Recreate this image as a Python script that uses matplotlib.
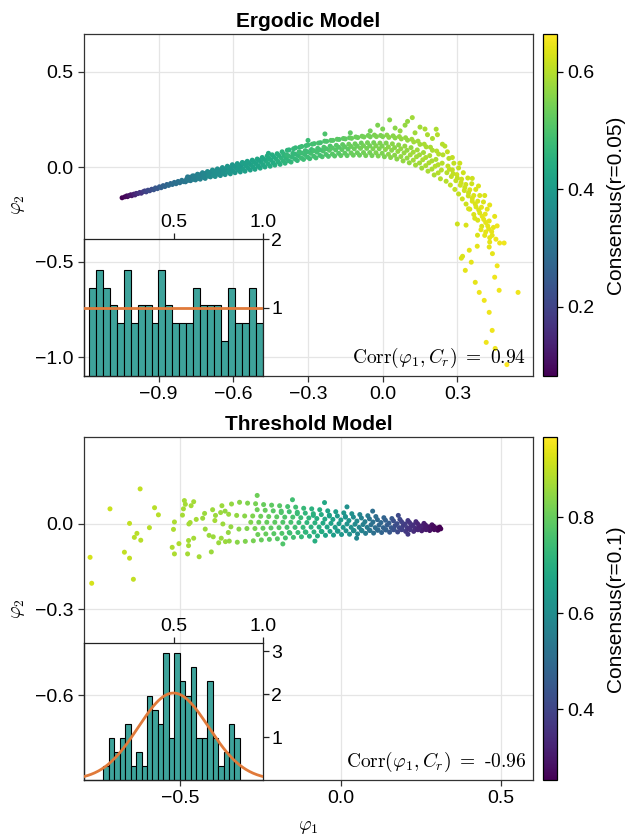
import numpy as np
import matplotlib
matplotlib.use("Agg")
import matplotlib.pyplot as plt

plt.rcParams['font.family'] = ['Liberation Sans', 'DejaVu Sans']
plt.rcParams['mathtext.fontset'] = 'cm'

# ---- Ergodic model scatter (phi1, phi2, consensus) ----
ergodic_tip = [
    (-1.047, -0.162, 0.08), (-1.036, -0.157, 0.09), (-1.028, -0.152, 0.10), (-1.025, -0.156, 0.10),
    (-1.018, -0.150, 0.11), (-1.012, -0.146, 0.12), (-1.008, -0.151, 0.12), (-1.000, -0.143, 0.13),
    (-0.995, -0.147, 0.14), (-0.990, -0.139, 0.15), (-0.983, -0.140, 0.16), (-0.976, -0.134, 0.17),
    (-0.970, -0.138, 0.17), (-0.962, -0.130, 0.18), (-0.956, -0.126, 0.19), (-0.950, -0.131, 0.20),
    (-0.943, -0.122, 0.21), (-0.936, -0.125, 0.21), (-0.928, -0.117, 0.22), (-0.920, -0.120, 0.23),
    (-0.913, -0.110, 0.24), (-0.905, -0.114, 0.24), (-0.897, -0.104, 0.25), (-0.890, -0.109, 0.26),
    (-0.882, -0.098, 0.26), (-0.875, -0.103, 0.27), (-0.867, -0.092, 0.27), (-0.860, -0.097, 0.28),
    (-0.852, -0.087, 0.28), (-0.845, -0.092, 0.29), (-0.837, -0.081, 0.29), (-0.830, -0.088, 0.30),
    (-0.822, -0.076, 0.30), (-0.815, -0.083, 0.30), (-0.807, -0.070, 0.31), (-0.800, -0.077, 0.31),
]
ergodic_rise = [
    (-0.792, -0.078, 0.31), (-0.788, -0.064, 0.32), (-0.784, -0.052, 0.32),
    (-0.772, -0.072, 0.32), (-0.768, -0.058, 0.33), (-0.764, -0.047, 0.33),
    (-0.752, -0.068, 0.33), (-0.748, -0.051, 0.34), (-0.744, -0.038, 0.34),
    (-0.733, -0.064, 0.34), (-0.728, -0.045, 0.35), (-0.724, -0.030, 0.35),
    (-0.713, -0.060, 0.35), (-0.708, -0.040, 0.36), (-0.704, -0.024, 0.36),
    (-0.692, -0.052, 0.36), (-0.688, -0.034, 0.36), (-0.684, -0.016, 0.37),
    (-0.673, -0.050, 0.37), (-0.668, -0.028, 0.37), (-0.664, -0.010, 0.37),
    (-0.652, -0.045, 0.37), (-0.648, -0.022, 0.38), (-0.644, -0.003, 0.38),
    (-0.633, -0.040, 0.38), (-0.628, -0.016, 0.38), (-0.624, 0.004, 0.39),
    (-0.612, -0.036, 0.39), (-0.608, -0.010, 0.39), (-0.604, 0.012, 0.39),
    (-0.593, -0.030, 0.39), (-0.588, -0.004, 0.40), (-0.584, 0.018, 0.40),
    (-0.572, -0.026, 0.40), (-0.568, 0.002, 0.40), (-0.564, 0.024, 0.41),
    (-0.553, -0.022, 0.41), (-0.548, 0.006, 0.41), (-0.544, 0.030, 0.41),
    (-0.532, -0.016, 0.41), (-0.528, 0.012, 0.42), (-0.524, 0.036, 0.42),
    (-0.513, -0.012, 0.42), (-0.508, 0.018, 0.42), (-0.504, 0.042, 0.43),
    (-0.492, -0.006, 0.43), (-0.488, 0.024, 0.43), (-0.484, 0.050, 0.43),
    (-0.473, 0.000, 0.43), (-0.468, 0.030, 0.44), (-0.464, 0.058, 0.44),
    (-0.452, 0.004, 0.44), (-0.448, 0.036, 0.44), (-0.444, 0.064, 0.45),
    (-0.433, 0.010, 0.45), (-0.428, 0.042, 0.45), (-0.424, 0.070, 0.45),
    (-0.412, 0.014, 0.45), (-0.408, 0.048, 0.46), (-0.404, 0.080, 0.46),
    (-0.740, -0.058, 0.34), (-0.700, -0.030, 0.36), (-0.660, -0.035, 0.37),
    (-0.620, -0.024, 0.38), (-0.580, -0.012, 0.40), (-0.540, 0.020, 0.41),
    (-0.500, 0.004, 0.42), (-0.460, 0.044, 0.44), (-0.420, 0.028, 0.45),
    (-0.395, 0.060, 0.46), (-0.459, 0.072, 0.44), (-0.557, 0.020, 0.41),
]
ergodic_rise_fill = [
    (-0.780, -0.070, 0.32), (-0.778, -0.054, 0.32), (-0.760, -0.065, 0.33), (-0.758, -0.047, 0.33),
    (-0.740, -0.059, 0.34), (-0.738, -0.041, 0.34), (-0.720, -0.054, 0.35), (-0.718, -0.034, 0.35),
    (-0.700, -0.048, 0.36), (-0.698, -0.028, 0.36), (-0.680, -0.043, 0.37), (-0.678, -0.021, 0.37),
    (-0.660, -0.038, 0.37), (-0.658, -0.016, 0.37), (-0.640, -0.032, 0.38), (-0.638, -0.010, 0.38),
    (-0.620, -0.027, 0.39), (-0.618, -0.003, 0.39), (-0.600, -0.022, 0.39), (-0.598, 0.004, 0.39),
    (-0.580, -0.016, 0.40), (-0.578, 0.010, 0.40), (-0.560, -0.011, 0.41), (-0.558, 0.017, 0.41),
    (-0.540, -0.006, 0.41), (-0.538, 0.022, 0.41), (-0.520, 0.000, 0.42), (-0.518, 0.028, 0.42),
    (-0.500, 0.005, 0.42), (-0.498, 0.035, 0.42), (-0.480, 0.011, 0.43), (-0.478, 0.041, 0.43),
    (-0.460, 0.016, 0.44), (-0.458, 0.048, 0.44), (-0.440, 0.022, 0.44), (-0.438, 0.054, 0.44),
    (-0.420, 0.027, 0.45), (-0.418, 0.061, 0.45), (-0.400, 0.032, 0.46), (-0.398, 0.068, 0.46),
]
ergodic_arch = [
    (-0.392, 0.020, 0.46), (-0.388, 0.045, 0.46), (-0.386, 0.064, 0.47), (-0.383, 0.088, 0.46),
    (-0.368, 0.026, 0.47), (-0.364, 0.052, 0.47), (-0.361, 0.072, 0.47), (-0.358, 0.096, 0.47),
    (-0.343, 0.034, 0.47), (-0.339, 0.060, 0.47), (-0.336, 0.080, 0.48), (-0.333, 0.104, 0.47),
    (-0.318, 0.040, 0.48), (-0.314, 0.066, 0.48), (-0.311, 0.086, 0.48), (-0.308, 0.112, 0.48),
    (-0.293, 0.044, 0.48), (-0.289, 0.072, 0.49), (-0.286, 0.092, 0.48), (-0.283, 0.120, 0.49),
    (-0.268, 0.048, 0.49), (-0.264, 0.078, 0.49), (-0.261, 0.098, 0.49), (-0.258, 0.126, 0.50),
    (-0.243, 0.054, 0.50), (-0.239, 0.084, 0.50), (-0.236, 0.104, 0.50), (-0.233, 0.136, 0.50),
    (-0.218, 0.056, 0.50), (-0.214, 0.088, 0.51), (-0.211, 0.110, 0.50), (-0.208, 0.140, 0.51),
    (-0.193, 0.058, 0.51), (-0.189, 0.090, 0.51), (-0.186, 0.114, 0.51), (-0.183, 0.146, 0.52),
    (-0.168, 0.060, 0.52), (-0.164, 0.092, 0.52), (-0.161, 0.118, 0.52), (-0.158, 0.150, 0.52),
    (-0.143, 0.060, 0.52), (-0.139, 0.094, 0.52), (-0.136, 0.120, 0.53), (-0.133, 0.154, 0.52),
    (-0.118, 0.062, 0.53), (-0.114, 0.096, 0.53), (-0.111, 0.122, 0.53), (-0.108, 0.158, 0.53),
    (-0.093, 0.062, 0.53), (-0.089, 0.098, 0.54), (-0.086, 0.126, 0.53), (-0.083, 0.162, 0.54),
    (-0.068, 0.060, 0.54), (-0.064, 0.098, 0.54), (-0.061, 0.128, 0.54), (-0.058, 0.166, 0.54),
    (-0.043, 0.060, 0.54), (-0.039, 0.096, 0.55), (-0.036, 0.128, 0.54), (-0.033, 0.168, 0.55),
    (-0.018, 0.058, 0.55), (-0.014, 0.096, 0.55), (-0.011, 0.126, 0.55), (-0.008, 0.166, 0.55),
    (0.007, 0.054, 0.55), (0.011, 0.092, 0.56), (0.014, 0.126, 0.55), (0.017, 0.168, 0.56),
    (0.032, 0.050, 0.56), (0.036, 0.088, 0.56), (0.039, 0.122, 0.56), (0.042, 0.164, 0.56),
    (0.057, 0.042, 0.56), (0.061, 0.082, 0.57), (0.064, 0.116, 0.56), (0.067, 0.160, 0.57),
    (0.082, 0.032, 0.57), (0.086, 0.074, 0.57), (0.089, 0.110, 0.57), (0.092, 0.154, 0.57),
    (0.107, 0.022, 0.57), (0.111, 0.064, 0.58), (0.114, 0.102, 0.57), (0.117, 0.146, 0.58),
    (0.132, 0.010, 0.58), (0.136, 0.054, 0.58), (0.139, 0.090, 0.58), (0.142, 0.136, 0.58),
    (0.157, -0.006, 0.58), (0.161, 0.038, 0.59), (0.164, 0.076, 0.58), (0.167, 0.120, 0.59),
    (0.182, -0.022, 0.59), (0.186, 0.022, 0.59), (0.189, 0.060, 0.59), (0.192, 0.104, 0.59),
    (0.207, -0.042, 0.59), (0.211, 0.004, 0.60), (0.214, 0.040, 0.59), (0.217, 0.084, 0.60),
    (0.232, -0.062, 0.60), (0.236, -0.016, 0.60), (0.239, 0.020, 0.60), (0.242, 0.064, 0.60),
]
ergodic_arch_fill = [
    (-0.378, 0.033, 0.46), (-0.376, 0.090, 0.46), (-0.352, 0.042, 0.47), (-0.350, 0.101, 0.47),
    (-0.327, 0.047, 0.48), (-0.325, 0.108, 0.48), (-0.302, 0.052, 0.48), (-0.300, 0.116, 0.48),
    (-0.277, 0.057, 0.49), (-0.275, 0.123, 0.49), (-0.252, 0.061, 0.49), (-0.250, 0.128, 0.49),
    (-0.227, 0.066, 0.50), (-0.225, 0.135, 0.50), (-0.202, 0.068, 0.51), (-0.200, 0.140, 0.51),
    (-0.177, 0.072, 0.51), (-0.175, 0.145, 0.51), (-0.152, 0.073, 0.52), (-0.150, 0.148, 0.52),
    (-0.127, 0.074, 0.53), (-0.125, 0.151, 0.53), (-0.102, 0.075, 0.53), (-0.100, 0.155, 0.53),
    (-0.077, 0.076, 0.54), (-0.075, 0.158, 0.54), (-0.052, 0.076, 0.54), (-0.050, 0.159, 0.54),
    (-0.027, 0.075, 0.55), (-0.025, 0.160, 0.55), (-0.002, 0.072, 0.55), (0.000, 0.160, 0.55),
    (0.023, 0.067, 0.56), (0.025, 0.156, 0.56), (0.048, 0.062, 0.56), (0.050, 0.153, 0.56),
    (0.073, 0.055, 0.57), (0.075, 0.148, 0.57), (0.098, 0.047, 0.57), (0.100, 0.141, 0.57),
    (0.123, 0.036, 0.58), (0.125, 0.132, 0.58), (0.148, 0.021, 0.58), (0.150, 0.119, 0.58),
    (0.173, 0.007, 0.59), (0.175, 0.106, 0.59), (0.198, -0.011, 0.59), (0.200, 0.088, 0.59),
    (0.223, -0.031, 0.60), (0.225, 0.068, 0.60),
]
ergodic_arch_core = [
    (-0.378, 0.058, 0.47), (-0.352, 0.068, 0.47), (-0.327, 0.074, 0.48), (-0.302, 0.080, 0.48),
    (-0.277, 0.086, 0.49), (-0.252, 0.090, 0.49), (-0.227, 0.096, 0.50), (-0.202, 0.100, 0.51),
    (-0.177, 0.104, 0.51), (-0.152, 0.106, 0.52), (-0.127, 0.108, 0.53), (-0.102, 0.110, 0.53),
    (-0.077, 0.112, 0.54), (-0.052, 0.112, 0.54), (-0.027, 0.112, 0.55), (-0.002, 0.110, 0.55),
    (0.023, 0.106, 0.56), (0.048, 0.102, 0.56), (0.073, 0.096, 0.57), (0.098, 0.088, 0.57),
    (0.123, 0.078, 0.58), (0.148, 0.064, 0.58), (0.173, 0.050, 0.59), (0.198, 0.032, 0.59),
    (0.223, 0.012, 0.60),
    (0.119, 0.260, 0.58), (0.028, 0.248, 0.56), (-0.232, 0.174, 0.50), (0.215, 0.199, 0.59),
    (0.090, 0.220, 0.57), (0.150, 0.210, 0.58), (0.050, 0.205, 0.56), (-0.050, 0.190, 0.54),
    (-0.130, 0.180, 0.52), (0.180, 0.170, 0.59), (-0.300, 0.140, 0.48), (0.250, 0.110, 0.60),
    (0.000, 0.200, 0.55), (0.070, 0.190, 0.57), (0.130, 0.180, 0.58), (0.200, 0.150, 0.59),
    (0.240, 0.120, 0.60), (0.100, 0.240, 0.57), (-0.020, 0.220, 0.55), (0.170, 0.200, 0.59),
    (0.220, 0.170, 0.60), (0.260, 0.080, 0.61), (0.280, 0.050, 0.61), (0.310, 0.020, 0.62),
]
ergodic_descent = [
    (0.255, -0.075, 0.60), (0.258, -0.030, 0.60), (0.262, 0.005, 0.61), (0.266, 0.045, 0.60),
    (0.272, -0.095, 0.61), (0.276, -0.050, 0.61), (0.280, -0.015, 0.61), (0.286, 0.020, 0.61),
    (0.290, -0.118, 0.61), (0.294, -0.072, 0.61), (0.298, -0.040, 0.62), (0.305, -0.005, 0.61),
    (0.305, -0.142, 0.61), (0.312, -0.096, 0.62), (0.317, -0.064, 0.62), (0.324, -0.030, 0.62),
    (0.320, -0.168, 0.62), (0.328, -0.124, 0.62), (0.334, -0.092, 0.62), (0.342, -0.058, 0.62),
    (0.335, -0.195, 0.62), (0.344, -0.152, 0.62), (0.350, -0.120, 0.63), (0.358, -0.088, 0.62),
    (0.350, -0.222, 0.62), (0.360, -0.180, 0.63), (0.366, -0.150, 0.63), (0.374, -0.118, 0.63),
    (0.366, -0.250, 0.63), (0.375, -0.210, 0.63), (0.382, -0.180, 0.63), (0.390, -0.150, 0.63),
    (0.382, -0.280, 0.63), (0.390, -0.242, 0.63), (0.397, -0.212, 0.64), (0.405, -0.184, 0.63),
    (0.398, -0.312, 0.63), (0.406, -0.276, 0.64), (0.412, -0.248, 0.64), (0.420, -0.222, 0.64),
    (0.414, -0.342, 0.64), (0.422, -0.310, 0.64), (0.428, -0.284, 0.64),
    (0.430, -0.372, 0.64), (0.438, -0.340, 0.64), (0.445, -0.318, 0.64),
    (0.268, -0.012, 0.61), (0.283, -0.035, 0.61), (0.300, -0.058, 0.61), (0.315, -0.082, 0.62),
    (0.330, -0.108, 0.62), (0.345, -0.136, 0.62), (0.360, -0.165, 0.63), (0.372, -0.195, 0.63),
    (0.386, -0.226, 0.63), (0.400, -0.260, 0.64), (0.414, -0.292, 0.64), (0.426, -0.326, 0.64),
    (0.440, -0.360, 0.64), (0.430, -0.395, 0.64), (0.455, -0.380, 0.65), (0.410, -0.360, 0.64),
    (0.395, -0.330, 0.64), (0.370, -0.270, 0.63), (0.345, -0.220, 0.63),
    (0.360, -0.060, 0.62), (0.385, -0.100, 0.63), (0.410, -0.150, 0.63), (0.430, -0.200, 0.64),
    (0.450, -0.260, 0.64), (0.460, -0.310, 0.65),
]
ergodic_tail = [
    (0.321, -0.470, 0.63), (0.441, -0.456, 0.64), (0.488, -0.400, 0.65), (0.428, -0.421, 0.64),
    (0.381, -0.359, 0.63), (0.335, -0.306, 0.63), (0.316, -0.480, 0.63), (0.332, -0.544, 0.64),
    (0.356, -0.501, 0.64), (0.372, -0.607, 0.64), (0.388, -0.660, 0.65), (0.408, -0.702, 0.65),
    (0.428, -0.765, 0.65), (0.440, -0.860, 0.65), (0.416, -0.923, 0.65), (0.452, -0.955, 0.65),
    (0.499, -1.040, 0.66), (0.544, -0.660, 0.65), (0.468, -0.649, 0.65), (0.348, -0.438, 0.64),
    (0.380, -0.417, 0.64), (0.460, -0.520, 0.65), (0.470, -0.400, 0.65), (0.300, -0.300, 0.62),
    (0.450, -0.580, 0.65),
]

# ---- Threshold model scatter ----
threshold_core = [
    (0.3125, -0.017, 0.25), (0.303, -0.022, 0.26), (0.307, -0.018, 0.25), (0.301, -0.014, 0.26), (0.309, -0.011, 0.25),
    (0.278, -0.023, 0.28), (0.283, -0.016, 0.28), (0.276, -0.010, 0.29), (0.285, -0.003, 0.28), (0.292, -0.014, 0.27), (0.270, -0.012, 0.29),
    (0.253, -0.024, 0.31), (0.258, -0.015, 0.31), (0.251, -0.007, 0.32), (0.260, 0.002, 0.31), (0.245, -0.011, 0.32), (0.265, -0.019, 0.30),
    (0.228, -0.026, 0.34), (0.233, -0.015, 0.34), (0.226, -0.003, 0.35), (0.235, 0.008, 0.34), (0.220, -0.009, 0.35), (0.240, -0.020, 0.33),
    (0.203, -0.026, 0.37), (0.208, -0.013, 0.37), (0.201, 0.000, 0.38), (0.210, 0.012, 0.37), (0.195, -0.006, 0.38), (0.214, -0.018, 0.36),
    (0.178, -0.028, 0.41), (0.183, -0.013, 0.41), (0.176, 0.001, 0.42), (0.185, 0.016, 0.41), (0.170, -0.006, 0.42), (0.190, -0.020, 0.40),
    (0.153, -0.029, 0.45), (0.158, -0.013, 0.45), (0.151, 0.003, 0.46), (0.160, 0.019, 0.45), (0.145, -0.004, 0.46), (0.165, -0.020, 0.44),
    (0.128, -0.030, 0.48), (0.133, -0.013, 0.48), (0.126, 0.005, 0.49), (0.135, 0.022, 0.48), (0.120, -0.004, 0.49), (0.140, -0.020, 0.47),
    (0.103, -0.032, 0.51), (0.108, -0.013, 0.51), (0.101, 0.007, 0.52), (0.110, 0.026, 0.51), (0.095, -0.003, 0.52), (0.115, -0.022, 0.50),
    (0.078, -0.033, 0.55), (0.083, -0.012, 0.55), (0.076, 0.008, 0.56), (0.085, 0.029, 0.55), (0.070, -0.002, 0.56), (0.090, -0.022, 0.54),
    (0.053, -0.035, 0.58), (0.058, -0.012, 0.58), (0.051, 0.010, 0.59), (0.060, 0.033, 0.58), (0.045, -0.001, 0.59), (0.065, -0.022, 0.57),
    (0.028, -0.036, 0.61), (0.033, -0.012, 0.61), (0.026, 0.012, 0.62), (0.035, 0.036, 0.61), (0.020, 0.000, 0.62), (0.040, -0.024, 0.60),
    (0.003, -0.037, 0.63), (0.008, -0.012, 0.63), (0.001, 0.014, 0.64), (0.010, 0.039, 0.63), (-0.005, 0.001, 0.64), (0.015, 0.024, 0.62),
    (-0.022, -0.039, 0.65), (-0.017, -0.012, 0.65), (-0.024, 0.016, 0.66), (-0.015, 0.043, 0.65), (-0.030, 0.002, 0.66), (-0.010, -0.025, 0.64),
    (-0.047, -0.040, 0.67), (-0.042, -0.011, 0.67), (-0.049, 0.017, 0.68), (-0.040, 0.046, 0.67), (-0.055, 0.003, 0.68), (-0.035, 0.028, 0.66),
    (-0.072, -0.042, 0.70), (-0.067, -0.011, 0.70), (-0.074, 0.019, 0.70), (-0.065, 0.050, 0.70), (-0.080, 0.004, 0.71), (-0.060, -0.026, 0.69),
    (-0.097, -0.043, 0.71), (-0.092, -0.011, 0.71), (-0.099, 0.021, 0.72), (-0.090, 0.053, 0.71), (-0.105, 0.005, 0.72), (-0.085, 0.030, 0.70),
    (-0.122, -0.045, 0.73), (-0.117, -0.012, 0.73), (-0.124, 0.022, 0.74), (-0.115, 0.055, 0.73), (-0.130, 0.005, 0.74), (-0.110, -0.028, 0.72),
    (-0.147, -0.047, 0.75), (-0.142, -0.012, 0.75), (-0.149, 0.024, 0.76), (-0.140, 0.059, 0.75), (-0.155, 0.006, 0.76), (-0.135, 0.036, 0.74),
    (-0.172, -0.049, 0.76), (-0.167, -0.012, 0.76), (-0.174, 0.024, 0.77), (-0.165, 0.061, 0.76), (-0.180, 0.006, 0.77), (-0.160, -0.030, 0.75),
    (-0.197, -0.052, 0.78), (-0.192, -0.013, 0.78), (-0.199, 0.025, 0.79), (-0.190, 0.064, 0.78), (-0.205, 0.006, 0.79), (-0.185, 0.040, 0.77),
    (-0.222, -0.054, 0.79), (-0.217, -0.014, 0.79), (-0.224, 0.026, 0.80), (-0.215, 0.066, 0.79), (-0.230, 0.006, 0.80),
    (-0.247, -0.056, 0.80), (-0.242, -0.015, 0.80), (-0.249, 0.027, 0.81), (-0.240, 0.068, 0.80), (-0.255, 0.006, 0.81),
    (-0.272, -0.059, 0.82), (-0.267, -0.016, 0.82), (-0.274, 0.028, 0.83), (-0.265, 0.071, 0.82), (-0.280, 0.006, 0.83),
    (-0.297, -0.061, 0.83), (-0.292, -0.016, 0.83), (-0.299, 0.028, 0.84), (-0.290, 0.073, 0.83),
    (-0.322, -0.064, 0.84), (-0.317, -0.018, 0.84), (-0.324, 0.030, 0.85), (-0.315, 0.076, 0.84),
    (-0.347, -0.060, 0.85), (-0.342, -0.010, 0.85), (-0.349, 0.034, 0.86), (-0.340, 0.070, 0.85),
    (-0.372, -0.050, 0.86), (-0.367, 0.000, 0.86), (-0.374, 0.040, 0.86),
    (-0.397, -0.045, 0.86), (-0.392, 0.012, 0.87), (-0.399, 0.050, 0.86),
]
threshold_fill = [
    (0.292, -0.020, 0.27), (0.290, -0.008, 0.27), (0.267, -0.020, 0.30), (0.265, -0.004, 0.30),
    (0.242, -0.020, 0.33), (0.240, 0.001, 0.33), (0.217, -0.020, 0.36), (0.215, 0.005, 0.36),
    (0.192, -0.019, 0.39), (0.190, 0.008, 0.39), (0.167, -0.020, 0.43), (0.165, 0.011, 0.43),
    (0.142, -0.021, 0.47), (0.140, 0.013, 0.47), (0.117, -0.021, 0.50), (0.115, 0.015, 0.50),
    (0.092, -0.023, 0.53), (0.090, 0.018, 0.53), (0.067, -0.024, 0.57), (0.065, 0.021, 0.57),
    (0.042, -0.023, 0.60), (0.040, 0.024, 0.60), (0.017, -0.024, 0.62), (0.015, 0.026, 0.62),
    (-0.008, -0.025, 0.64), (-0.010, 0.028, 0.64), (-0.033, -0.026, 0.66), (-0.035, 0.031, 0.66),
    (-0.058, -0.027, 0.69), (-0.060, 0.033, 0.69), (-0.083, -0.028, 0.71), (-0.085, 0.036, 0.71),
    (-0.108, -0.029, 0.72), (-0.110, 0.038, 0.72), (-0.133, -0.030, 0.74), (-0.135, 0.041, 0.74),
    (-0.158, -0.032, 0.75), (-0.160, 0.043, 0.75), (-0.183, -0.033, 0.77), (-0.185, 0.045, 0.77),
    (-0.208, -0.034, 0.78), (-0.210, 0.046, 0.78), (-0.233, -0.035, 0.80), (-0.235, 0.048, 0.80),
    (-0.258, -0.037, 0.81), (-0.260, 0.050, 0.81),
    (0.100, 0.045, 0.51), (0.020, 0.060, 0.61), (-0.050, 0.075, 0.68), (-0.150, 0.085, 0.75),
    (0.050, -0.050, 0.58), (-0.080, -0.060, 0.70), (-0.180, -0.070, 0.77), (0.180, 0.030, 0.41),
    (0.210, -0.036, 0.37), (-0.260, 0.100, 0.81),
]
threshold_sparse = [
    (-0.625, 0.123, 0.90), (-0.719, 0.053, 0.91), (-0.781, -0.117, 0.92), (-0.776, -0.208, 0.92),
    (-0.658, 0.002, 0.90), (-0.646, -0.194, 0.90), (-0.674, -0.099, 0.90), (-0.658, -0.120, 0.90),
    (-0.635, -0.033, 0.89), (-0.643, -0.047, 0.89), (-0.623, -0.057, 0.89), (-0.596, -0.013, 0.89),
    (-0.580, 0.057, 0.89), (-0.568, 0.032, 0.89), (-0.525, -0.082, 0.88), (-0.518, -0.105, 0.88),
    (-0.504, -0.069, 0.88), (-0.518, 0.007, 0.88), (-0.521, -0.019, 0.88), (-0.487, 0.082, 0.87),
    (-0.484, 0.069, 0.87), (-0.458, 0.078, 0.87), (-0.466, 0.064, 0.87), (-0.490, 0.053, 0.87),
    (-0.493, 0.031, 0.87), (-0.469, 0.005, 0.87), (-0.450, 0.016, 0.87), (-0.473, 0.000, 0.87),
    (-0.474, -0.058, 0.87), (-0.458, -0.050, 0.87), (-0.474, -0.076, 0.87), (-0.477, -0.105, 0.87),
    (-0.441, -0.115, 0.87), (-0.403, -0.098, 0.86), (-0.422, -0.018, 0.86), (-0.424, 0.037, 0.86),
    (-0.380, -0.066, 0.86), (-0.370, 0.064, 0.86), (-0.359, -0.062, 0.86), (-0.430, 0.020, 0.86),
    (-0.410, -0.040, 0.86), (-0.390, 0.030, 0.86), (-0.360, 0.045, 0.85), (-0.350, -0.030, 0.85),
]

# ---- inset histograms (counts of 100 samples, 25 bins) ----
ergodic_counts = [5, 6, 5, 4, 3, 6, 3, 4, 4, 3, 6, 4, 3, 3, 3, 5, 4, 4, 4, 2, 5, 3, 3, 5, 3]
ergodic_range = (0.028, 0.998)
threshold_counts = [1, 3, 2, 3, 4, 1, 2, 1, 6, 5, 4, 9, 3, 9, 7, 6, 8, 3, 3, 7, 3, 1, 2, 4, 3]
threshold_range = (0.108, 0.871)
fit_mu, fit_sigma = 0.50, 0.197

corr_labels = ['0.94', '-0.96']
titles = ['Ergodic Model', 'Threshold Model']
cbar_labels = ['Consensus(r=0.05)', 'Consensus(r=0.1)']

W, H = 626, 840
fig = plt.figure(figsize=(W / 100, H / 100), dpi=100)


def px_axes(l, t, r, b):
    return fig.add_axes([l / W, 1 - b / H, (r - l) / W, (b - t) / H])


def unpack(*groups):
    pts = [p for g in groups for p in g]
    x, y, c = zip(*pts)
    return np.array(x), np.array(y), np.array(c)


def style_main(ax):
    ax.grid(True, color='#e5e5e5', lw=0.9, zorder=0)
    ax.set_axisbelow(True)
    for s in ax.spines.values():
        s.set_color('#333333')
        s.set_linewidth(0.9)
    ax.tick_params(direction='out', length=4, width=0.9, color='#333333', labelsize=14)


def draw_inset(ax, counts, rng, top, yticks):
    n = sum(counts)
    edges = np.linspace(rng[0], rng[1], len(counts) + 1)
    w = edges[1] - edges[0]
    heights = np.array(counts) / (n * w)
    ax.bar(edges[:-1], heights, width=w, align='edge', color='#3ea39b',
           edgecolor='black', linewidth=0.8, zorder=2)
    ax.set_xlim(0, 1)
    ax.set_ylim(0, top)
    ax.patch.set_alpha(0)
    ax.xaxis.tick_top()
    ax.yaxis.tick_right()
    ax.set_xticks([0.5, 1.0])
    ax.set_yticks(yticks)
    ax.tick_params(direction='out', length=4, width=0.9, color='#222222', labelsize=14, pad=2)
    for s in ax.spines.values():
        s.set_color('#222222')
        s.set_linewidth(0.9)


def corr_text(ax, label):
    # number kept outside math mode so a negative value shows a plain hyphen
    ax.text(0.985, 0.018, r'$\mathrm{Corr}(\varphi_1, C_r)\;=$ ' + label,
            transform=ax.transAxes, ha='right', va='bottom', fontsize=14,
            family='cmr10')


orange = '#e07a3a'

# ---------- top panel ----------
ax1 = px_axes(84, 34, 533, 376)
cax1 = px_axes(543, 34, 557, 376)
ex, ey, ec = unpack(ergodic_tip, ergodic_rise, ergodic_rise_fill, ergodic_arch,
                    ergodic_arch_fill, ergodic_arch_core, ergodic_descent, ergodic_tail)
sc1 = ax1.scatter(ex, ey, c=ec, cmap='viridis', vmin=0.082, vmax=0.664, s=13,
                  edgecolors='none', zorder=3)
ax1.set_xlim(-1.2, 0.604)
ax1.set_ylim(-1.10, 0.70)
ax1.set_xticks([-0.9, -0.6, -0.3, 0.0, 0.3])
ax1.set_yticks([-1.0, -0.5, 0.0, 0.5])
style_main(ax1)
ax1.set_ylabel(r'$\varphi_2$', fontsize=14, labelpad=6)
ax1.set_title(titles[0], fontsize=15, fontweight='bold', pad=5)
corr_text(ax1, corr_labels[0])

in1 = px_axes(84, 239, 263, 376)
draw_inset(in1, ergodic_counts, ergodic_range, 2.0, [1, 2])
in1.plot([0, 1], [1, 1], color=orange, lw=2, zorder=3)

cb1 = fig.colorbar(sc1, cax=cax1)
cb1.set_ticks([0.2, 0.4, 0.6])
cb1.ax.tick_params(labelsize=14, length=4, width=0.9)
cb1.outline.set_linewidth(0.9)
cb1.set_label(cbar_labels[0], fontsize=15, labelpad=8)

# ---------- bottom panel ----------
ax2 = px_axes(84, 437, 533, 780)
cax2 = px_axes(543, 437, 557, 780)
tx, ty, tc = unpack(threshold_sparse, threshold_core, threshold_fill)
sc2 = ax2.scatter(tx, ty, c=tc, cmap='viridis', vmin=0.252, vmax=0.967, s=13,
                  edgecolors='none', zorder=3)
ax2.set_xlim(-0.80, 0.60)
ax2.set_ylim(-0.898, 0.305)
ax2.set_xticks([-0.5, 0.0, 0.5])
ax2.set_yticks([-0.6, -0.3, 0.0])
style_main(ax2)
ax2.set_ylabel(r'$\varphi_2$', fontsize=14, labelpad=6)
ax2.set_xlabel(r'$\varphi_1$', fontsize=14, labelpad=8)
ax2.set_title(titles[1], fontsize=15, fontweight='bold', pad=5)
corr_text(ax2, corr_labels[1])

in2 = px_axes(84, 643, 263, 780)
draw_inset(in2, threshold_counts, threshold_range, 3.19, [1, 2, 3])
gx = np.linspace(0, 1, 200)
in2.plot(gx, np.exp(-0.5 * ((gx - fit_mu) / fit_sigma) ** 2) / (fit_sigma * np.sqrt(2 * np.pi)),
         color=orange, lw=2, zorder=3)

cb2 = fig.colorbar(sc2, cax=cax2)
cb2.set_ticks([0.4, 0.6, 0.8])
cb2.ax.tick_params(labelsize=14, length=4, width=0.9)
cb2.outline.set_linewidth(0.9)
cb2.set_label(cbar_labels[1], fontsize=15, labelpad=8)

fig.savefig('out.png', dpi=100)
